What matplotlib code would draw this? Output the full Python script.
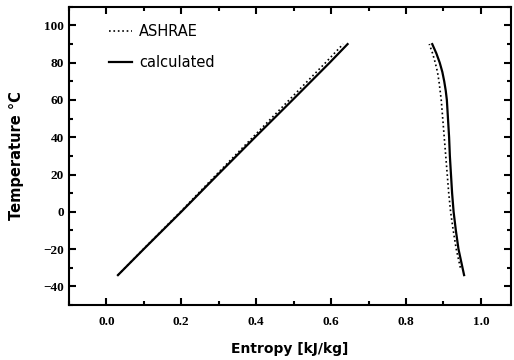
import numpy as np
import matplotlib.pyplot as plt
from matplotlib.ticker import MultipleLocator

# saturated liquid line
t_liq = [-34, -20, 0, 20, 40, 60, 80, 90]
s_liq_calc = [0.031, 0.100, 0.200, 0.298, 0.397, 0.497, 0.596, 0.644]
s_liq_ashrae = [0.031, 0.099, 0.198, 0.294, 0.391, 0.488, 0.585, 0.632]

# saturated vapour line
t_vap_calc = [-34, -20, -10, 0, 10, 20, 30, 40, 50, 60, 65, 70, 75, 80, 85, 90]
s_vap_calc = [0.955, 0.940, 0.933, 0.927, 0.923, 0.920, 0.917, 0.915, 0.912,
              0.909, 0.906, 0.902, 0.897, 0.890, 0.881, 0.870]
t_vap_ashrae = [-30, -20, -10, 0, 10, 20, 30, 40, 50, 60, 70, 75, 80, 85, 90]
s_vap_ashrae = [0.945, 0.934, 0.926, 0.919, 0.914, 0.910, 0.906, 0.902, 0.898,
                0.894, 0.888, 0.884, 0.878, 0.871, 0.862]

fig = plt.figure(figsize=(5.14, 3.6), dpi=100)
ax = fig.add_axes([0.134, 0.153, 0.860, 0.828])

ax.plot(s_liq_ashrae, t_liq, ":", color="black", lw=1.2, label="ASHRAE")
ax.plot(s_liq_calc, t_liq, "-", color="black", lw=1.6, label="calculated")
ax.plot(s_vap_ashrae, t_vap_ashrae, ":", color="black", lw=1.2)
ax.plot(s_vap_calc, t_vap_calc, "-", color="black", lw=1.6)

ax.set_xlim(-0.1, 1.08)
ax.set_ylim(-50, 110)
ax.xaxis.set_minor_locator(MultipleLocator(0.1))
ax.yaxis.set_major_locator(MultipleLocator(20))
ax.yaxis.set_minor_locator(MultipleLocator(10))
ax.set_xticks(np.arange(0, 1.01, 0.2))
ax.set_xticklabels(["0.0", "0.2", "0.4", "0.6", "0.8", "1.0"])
ax.tick_params(which="both", direction="in", top=True, right=True, width=1.5)
ax.tick_params(which="major", length=5)
ax.tick_params(which="minor", length=3)
ax.tick_params(axis="x", pad=8)
for lab in ax.get_xticklabels() + ax.get_yticklabels():
    lab.set_fontfamily("Liberation Serif")
    lab.set_fontweight("bold")
    lab.set_fontsize(9.5)
for sp in ax.spines.values():
    sp.set_linewidth(1.5)

ax.set_xlabel("Entropy [kJ/kg]", fontsize=10, fontweight="bold", labelpad=10)
ax.set_ylabel("Temperature °C", fontsize=10.5, fontweight="bold", labelpad=14)

ax.legend(loc="upper left", frameon=False, fontsize=10.5, handlelength=1.6,
          handletextpad=0.5, bbox_to_anchor=(0.06, 0.985), labelspacing=1.1)

fig.savefig("out.png", dpi=100)
